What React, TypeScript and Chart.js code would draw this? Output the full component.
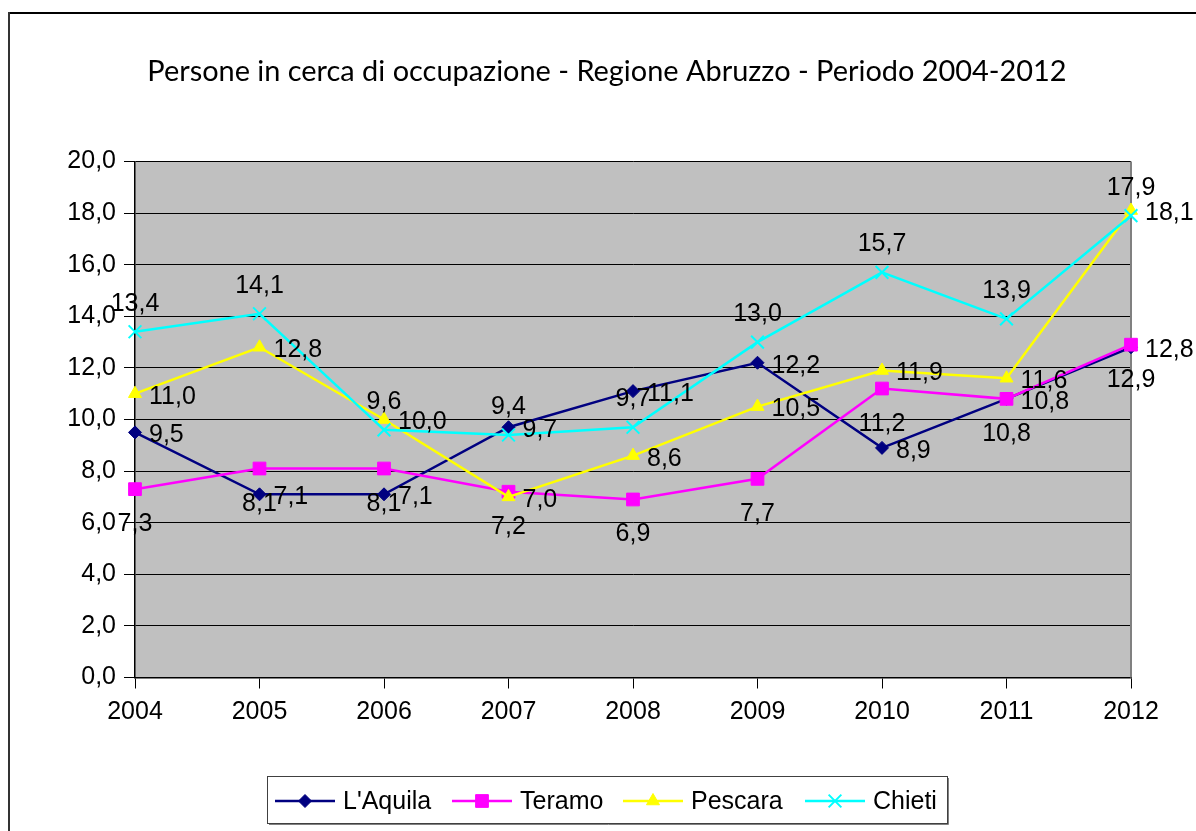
import React, { useEffect, useRef } from 'react';
import { Chart, registerables } from 'chart.js';

Chart.register(...registerables);

const years = ['2004', '2005', '2006', '2007', '2008', '2009', '2010', '2011', '2012'];
const laquila = [9.5, 7.1, 7.1, 9.7, 11.1, 12.2, 8.9, 10.8, 12.8];
const teramo = [7.3, 8.1, 8.1, 7.2, 6.9, 7.7, 11.2, 10.8, 12.9];
const pescara = [11.0, 12.8, 10.0, 7.0, 8.6, 10.5, 11.9, 11.6, 18.1];
const chieti = [13.4, 14.1, 9.6, 9.4, 9.7, 13.0, 15.7, 13.9, 17.9];

const seriesNames = ["L'Aquila", 'Teramo', 'Pescara', 'Chieti'];
const seriesColors = ['#000080', '#FF00FF', '#FFFF00', '#00FFFF'];
const seriesStyles = ['rectRot', 'rect', 'triangle', 'crossRot'];
const seriesRadii = [6.5, 9, 7.5, 9];
const labelPositions = ['right', 'below', 'right', 'above'];

const titleText = 'Persone in cerca di occupazione - Regione Abruzzo - Periodo 2004-2012';
const yMin = 0;
const yMax = 20;
const yStep = 2;

const FONT = '"Liberation Sans", Arial, sans-serif';

const fmt = (v: number) => v.toFixed(1).replace('.', ',');

function drawMarker(ctx: CanvasRenderingContext2D, style: string, x: number, y: number, r: number, color: string) {
  ctx.save();
  ctx.fillStyle = color;
  ctx.strokeStyle = color;
  ctx.lineWidth = 1;
  ctx.beginPath();
  if (style === 'rectRot') {
    ctx.moveTo(x - r, y);
    ctx.lineTo(x, y - r);
    ctx.lineTo(x + r, y);
    ctx.lineTo(x, y + r);
    ctx.closePath();
    ctx.fill();
    ctx.stroke();
  } else if (style === 'rect') {
    const s = Math.SQRT1_2 * r;
    ctx.rect(x - s, y - s, 2 * s, 2 * s);
    ctx.fill();
    ctx.stroke();
  } else if (style === 'triangle') {
    for (let i = 0; i < 3; i++) {
      const a = (i * 2 * Math.PI) / 3;
      const px = x + Math.sin(a) * r;
      const py = y - Math.cos(a) * r;
      if (i === 0) ctx.moveTo(px, py);
      else ctx.lineTo(px, py);
    }
    ctx.closePath();
    ctx.fill();
    ctx.stroke();
  } else {
    const o = Math.SQRT1_2 * r;
    ctx.lineWidth = 2;
    ctx.moveTo(x - o, y - o);
    ctx.lineTo(x + o, y + o);
    ctx.moveTo(x + o, y - o);
    ctx.lineTo(x - o, y + o);
    ctx.stroke();
  }
  ctx.restore();
}

const decorPlugin = {
  id: 'decor',
  beforeDraw(chart: any) {
    const { ctx, chartArea } = chart;
    ctx.save();
    ctx.fillStyle = '#FFFFFF';
    ctx.fillRect(0, 0, chart.width, chart.height);
    // outer chart border
    ctx.fillStyle = '#000000';
    ctx.fillRect(8, 12, chart.width - 8, 2);
    ctx.fillStyle = '#333333';
    ctx.fillRect(8, 12, 2, chart.height - 12);
    // plot area
    ctx.fillStyle = '#C0C0C0';
    ctx.fillRect(chartArea.left, chartArea.top, chartArea.right - chartArea.left, chartArea.bottom - chartArea.top);
    // title
    ctx.fillStyle = '#000000';
    let size = 28;
    ctx.font = `${size}px Lato, "Open Sans", sans-serif`;
    const w = ctx.measureText(titleText).width;
    size = (size * 920) / w;
    ctx.font = `${size}px Lato, "Open Sans", sans-serif`;
    ctx.textAlign = 'center';
    ctx.textBaseline = 'alphabetic';
    ctx.fillText(titleText, 607, 81);
    ctx.restore();
  },
  beforeDatasetsDraw(chart: any) {
    const { ctx, chartArea } = chart;
    ctx.save();
    ctx.strokeStyle = '#808080';
    ctx.lineWidth = 2;
    ctx.beginPath();
    ctx.moveTo(chartArea.right, chartArea.top);
    ctx.lineTo(chartArea.right, chartArea.bottom);
    ctx.stroke();
    ctx.restore();
  },
  afterDatasetsDraw(chart: any) {
    const { ctx } = chart;
    ctx.save();
    ctx.fillStyle = '#000000';
    ctx.font = `25px ${FONT}`;
    chart.data.datasets.forEach((ds: any, di: number) => {
      const meta = chart.getDatasetMeta(di);
      const pos = labelPositions[di];
      meta.data.forEach((el: any, i: number) => {
        const t = fmt(ds.data[i]);
        const x = el.x;
        const y = el.y;
        if (pos === 'right') {
          ctx.textAlign = 'left';
          ctx.textBaseline = 'middle';
          ctx.fillText(t, x + 14, y + 3);
        } else if (pos === 'above') {
          ctx.textAlign = 'center';
          ctx.textBaseline = 'alphabetic';
          ctx.fillText(t, x, y - 21);
        } else {
          ctx.textAlign = 'center';
          ctx.textBaseline = 'alphabetic';
          ctx.fillText(t, x, y + 42);
        }
      });
    });
    ctx.restore();
  },
  afterDraw(chart: any) {
    const { ctx } = chart;
    ctx.save();
    // legend box
    const bx = 267, by = 776, bw = 680, bh = 47;
    ctx.fillStyle = '#FFFFFF';
    ctx.fillRect(bx, by, bw, bh);
    ctx.strokeStyle = '#404040';
    ctx.lineWidth = 1;
    ctx.strokeRect(bx + 0.5, by + 0.5, bw, bh);
    ctx.strokeStyle = '#808080';
    ctx.beginPath();
    ctx.moveTo(bx + bw + 1.5, by + 2);
    ctx.lineTo(bx + bw + 1.5, by + bh + 1.5);
    ctx.lineTo(bx + 2, by + bh + 1.5);
    ctx.stroke();
    const lineStarts = [275, 452, 623, 805];
    const ly = 801;
    ctx.font = `25px ${FONT}`;
    ctx.textAlign = 'left';
    ctx.textBaseline = 'middle';
    seriesNames.forEach((name, i) => {
      const x0 = lineStarts[i];
      ctx.strokeStyle = seriesColors[i];
      ctx.lineWidth = 2.5;
      ctx.beginPath();
      ctx.moveTo(x0, ly);
      ctx.lineTo(x0 + 60, ly);
      ctx.stroke();
      drawMarker(ctx, seriesStyles[i], x0 + 30, ly, seriesRadii[i], seriesColors[i]);
      ctx.fillStyle = '#000000';
      ctx.fillText(name, x0 + 68, ly + 1);
    });
    ctx.restore();
  },
};

export default function App() {
  const ref = useRef<HTMLCanvasElement | null>(null);

  useEffect(() => {
    document.body.style.margin = '0';
    const canvas = ref.current;
    if (!canvas) return;
    const seriesData = [laquila, teramo, pescara, chieti];
    const chart = new Chart(canvas, {
      type: 'line',
      data: {
        labels: years,
        datasets: seriesNames.map((name, i) => ({
          label: name,
          data: seriesData[i],
          borderColor: seriesColors[i],
          backgroundColor: seriesColors[i],
          pointBackgroundColor: seriesColors[i],
          pointBorderColor: seriesColors[i],
          pointStyle: seriesStyles[i] as any,
          pointRadius: seriesRadii[i],
          pointBorderWidth: seriesStyles[i] === 'crossRot' ? 2 : 1,
          borderWidth: 2.5,
          tension: 0,
          fill: false,
          order: 3 - i,
        })),
      },
      options: {
        animation: false,
        responsive: false,
        devicePixelRatio: 1,
        events: [],
        layout: { padding: { left: 0, right: 65, top: 161.5, bottom: 0 } },
        plugins: {
          legend: { display: false },
          title: { display: false },
          tooltip: { enabled: false },
        },
        scales: {
          x: {
            type: 'category',
            offset: false,
            grid: {
              drawOnChartArea: false,
              drawTicks: true,
              tickLength: 11,
              color: '#000000',
              lineWidth: 1,
            },
            border: { color: '#000000', width: 1.5 },
            ticks: {
              color: '#000000',
              font: { family: FONT, size: 25 },
              padding: 9,
              maxRotation: 0,
              autoSkip: false,
            },
            afterFit: (scale: any) => {
              scale.height = 153.5;
            },
          },
          y: {
            min: yMin,
            max: yMax,
            grid: {
              drawOnChartArea: true,
              drawTicks: true,
              tickLength: 11,
              color: '#000000',
              lineWidth: 1,
            },
            border: { color: '#000000', width: 1.5 },
            ticks: {
              stepSize: yStep,
              color: '#000000',
              font: { family: FONT, size: 25 },
              padding: 8,
              callback: (v: any) => fmt(Number(v)),
            },
            afterFit: (scale: any) => {
              scale.width = 135;
            },
          },
        },
      },
      plugins: [decorPlugin],
    });
    return () => chart.destroy();
  }, []);

  return (
    <div style={{ position: 'absolute', left: 0, top: 0, width: 1196, height: 831 }}>
      <canvas ref={ref} width={1196} height={831} style={{ display: 'block', width: 1196, height: 831 }} />
    </div>
  );
}
